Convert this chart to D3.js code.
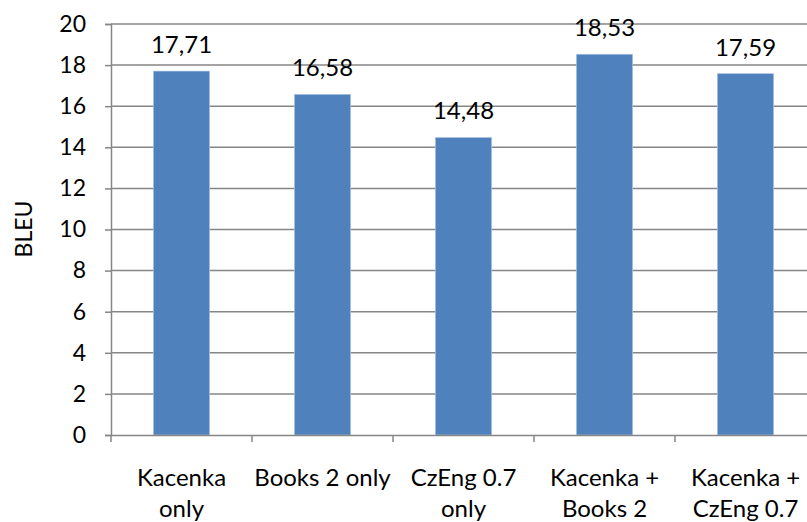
<!DOCTYPE html>
<html><head><meta charset="utf-8">
<script src="https://cdn.jsdelivr.net/npm/d3@7"></script>
<style>body{margin:0;background:#fff}text{font-family:Lato,"Open Sans",sans-serif;fill:#000}</style>
</head><body>
<script>
const categories = ["Kacenka only", "Books 2 only", "CzEng 0.7 only", "Kacenka + Books 2", "Kacenka + CzEng 0.7"];
const categoryLines = [["Kacenka", "only"], ["Books 2 only"], ["CzEng 0.7", "only"], ["Kacenka +", "Books 2"], ["Kacenka +", "CzEng 0.7"]];
const values = [17.71, 16.58, 14.48, 18.53, 17.59];
const valueLabels = ["17,71", "16,58", "14,48", "18,53", "17,59"];
const yTicks = [0, 2, 4, 6, 8, 10, 12, 14, 16, 18, 20];
const yTitle = "BLEU";

const W = 807, H = 522;
const svg = d3.select("body").append("svg").attr("width", W).attr("height", H);
const x = d3.scaleBand().domain(categories).range([111, 816]).padding(0);
const y = d3.scaleLinear().domain([0, 20]).range([435, 24]);
const grid = "#868686";

// gridlines
svg.append("g").selectAll("line").data(yTicks.filter(d => d > 0)).join("line")
  .attr("x1", 111).attr("x2", W).attr("y1", d => y(d)).attr("y2", d => y(d))
  .attr("stroke", grid).attr("stroke-width", 1.5);

// y axis
const yAxis = svg.append("g").attr("transform", "translate(111,0)")
  .call(d3.axisLeft(y).tickValues(yTicks).tickSize(6).tickPadding(19).tickFormat(d3.format("d")));
yAxis.select(".domain").attr("stroke", grid).attr("stroke-width", 1.5);
yAxis.selectAll(".tick line").attr("stroke", grid).attr("stroke-width", 1.5);
yAxis.selectAll(".tick text").attr("font-size", 23).attr("font-family", "Lato");

// bars
svg.append("g").selectAll("rect").data(values).join("rect")
  .attr("x", (d, i) => x(categories[i]) + x.bandwidth() * 0.3)
  .attr("width", x.bandwidth() * 0.4)
  .attr("y", d => y(d)).attr("height", d => y(0) - y(d))
  .attr("fill", "#4F81BD").attr("stroke", "#B9CDE5").attr("stroke-width", 0.6);

// x axis
const xAxis = svg.append("g").attr("transform", `translate(0,${y(0)})`)
  .call(d3.axisBottom(x).tickValues([]).tickSize(0));
xAxis.select(".domain").attr("stroke", grid).attr("stroke-width", 1.5);
const bounds = categories.map(c => x(c));
xAxis.selectAll("line.ct").data(bounds).join("line").attr("class", "ct")
  .attr("x1", d => d).attr("x2", d => d).attr("y1", 0).attr("y2", 7)
  .attr("stroke", grid).attr("stroke-width", 1.5);

// x labels
categoryLines.forEach((lines, i) => {
  const cx = x(categories[i]) + x.bandwidth() / 2;
  lines.forEach((t, j) => {
    svg.append("text").attr("x", cx).attr("y", 486 + j * 31)
      .attr("text-anchor", "middle").attr("font-size", 24).text(t);
  });
});

// value labels
svg.append("g").selectAll("text").data(values).join("text")
  .attr("x", (d, i) => x(categories[i]) + x.bandwidth() / 2)
  .attr("y", d => y(d) - 18)
  .attr("text-anchor", "middle").attr("font-size", 24)
  .text((d, i) => valueLabels[i]);

// y title
svg.append("text").attr("transform", "translate(32,229) rotate(-90)")
  .attr("text-anchor", "middle").attr("font-size", 23).text(yTitle);
</script>
</body></html>
